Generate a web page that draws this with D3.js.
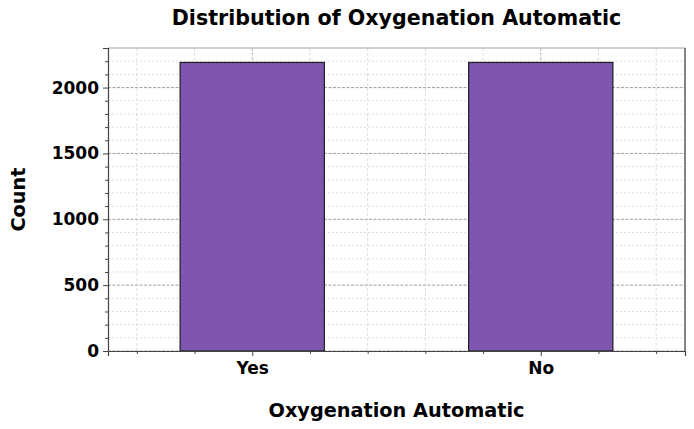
<!DOCTYPE html>
<html><head><meta charset="utf-8">
<script src="https://cdn.jsdelivr.net/npm/d3@7"></script>
<style>body{margin:0;background:#fff}svg{display:block}text{font-family:"DejaVu Sans",sans-serif;font-weight:bold}</style>
</head><body><svg id="c" width="694" height="429"></svg>
<script>
const categories = ["Yes", "No"];
const counts = [2191, 2191];
const yTicks = [0, 500, 1000, 1500, 2000];
const title = "Distribution of Oxygenation Automatic";
const xTitle = "Oxygenation Automatic";
const yTitle = "Count";

const W = 694, H = 429;
const m = {l:108, r:9, t:48, b:78};
const svg = d3.select("#c");
const pw = W - m.l - m.r, ph = H - m.t - m.b;
const g = svg.append("g").attr("transform", `translate(${m.l},${m.t})`);

const x = d3.scaleLinear().domain([-0.5, categories.length - 0.5]).range([0, pw]);
const y = d3.scaleLinear().domain([0, d3.max(counts) * 1.05]).range([ph, 0]);

const minorY = d3.range(0, y.domain()[1], 100).filter(v => v % 500 !== 0);
const minorX = d3.range(-0.4, categories.length - 0.5, 0.2).map(v => +v.toFixed(1)).filter(v => Math.abs(v - Math.round(v)) > 1e-6);
const majorX = categories.map((c, i) => i);

// grid
g.selectAll(".gmy").data(minorY).join("line")
  .attr("x1", 0).attr("x2", pw).attr("y1", d => y(d)).attr("y2", d => y(d))
  .attr("stroke", "#c8c8c8").attr("stroke-width", 0.6).attr("stroke-dasharray", "2,2");
g.selectAll(".gMy").data(yTicks).join("line")
  .attr("x1", 0).attr("x2", pw).attr("y1", d => y(d)).attr("y2", d => y(d))
  .attr("stroke", "#777").attr("stroke-width", 0.7).attr("stroke-dasharray", "3,1.5");
g.selectAll(".gmx").data(minorX).join("line")
  .attr("y1", 0).attr("y2", ph).attr("x1", d => x(d)).attr("x2", d => x(d))
  .attr("stroke", "#c8c8c8").attr("stroke-width", 0.6).attr("stroke-dasharray", "3,2");
g.selectAll(".gMx").data(majorX).join("line")
  .attr("y1", 0).attr("y2", ph).attr("x1", d => x(d)).attr("x2", d => x(d))
  .attr("stroke", "#999").attr("stroke-width", 0.7).attr("stroke-dasharray", "3,1.5");

// bars
const bw = (x(1) - x(0)) * 0.5;
g.selectAll(".bar").data(counts).join("rect")
  .attr("x", (d, i) => x(i) - bw / 2).attr("width", bw)
  .attr("y", d => y(d)).attr("height", d => ph - y(d))
  .attr("fill", "#7E55AF").attr("stroke", "#1f1f1f").attr("stroke-width", 1.2);

// spines
g.append("line").attr("x1", 0).attr("x2", pw).attr("y1", 0).attr("y2", 0).attr("stroke", "#aaa").attr("stroke-width", 1.2);
g.append("line").attr("x1", pw).attr("x2", pw).attr("y1", 0).attr("y2", ph).attr("stroke", "#333").attr("stroke-width", 1.2);

// axes
const yAxis = g.append("g").call(d3.axisLeft(y).tickValues(yTicks).tickSize(5).tickPadding(4).tickFormat(d3.format("d")));
const yMinor = g.append("g").call(d3.axisLeft(y).tickValues(minorY).tickSize(3).tickFormat(""));
const xAxis = g.append("g").attr("transform", `translate(0,${ph})`)
  .call(d3.axisBottom(x).tickValues(majorX).tickSize(5).tickPadding(6).tickFormat(i => categories[i]));
const xMinor = g.append("g").attr("transform", `translate(0,${ph})`)
  .call(d3.axisBottom(x).tickValues(minorX).tickSize(3).tickFormat(""));
[yAxis, yMinor, xAxis, xMinor].forEach(a => {
  a.select(".domain").attr("stroke", "#444").attr("stroke-width", 1.2);
  a.selectAll(".tick line").attr("stroke", "#444").attr("stroke-width", 1);
  a.selectAll("text").attr("font-size", 17).attr("fill", "#000").style("font-family", "DejaVu Sans").style("font-weight", "bold");
});
[yMinor, xMinor].forEach(a => a.select(".domain").remove());

// titles
svg.append("text").attr("x", m.l + pw / 2).attr("y", 25).attr("text-anchor", "middle")
  .attr("font-size", 20.6).text(title);
svg.append("text").attr("x", m.l + pw / 2).attr("y", 417).attr("text-anchor", "middle")
  .attr("font-size", 19.3).text(xTitle);
svg.append("text").attr("transform", `translate(24.5,${m.t + ph / 2}) rotate(-90)`).attr("text-anchor", "middle")
  .attr("font-size", 19.3).text(yTitle);
</script></body></html>
